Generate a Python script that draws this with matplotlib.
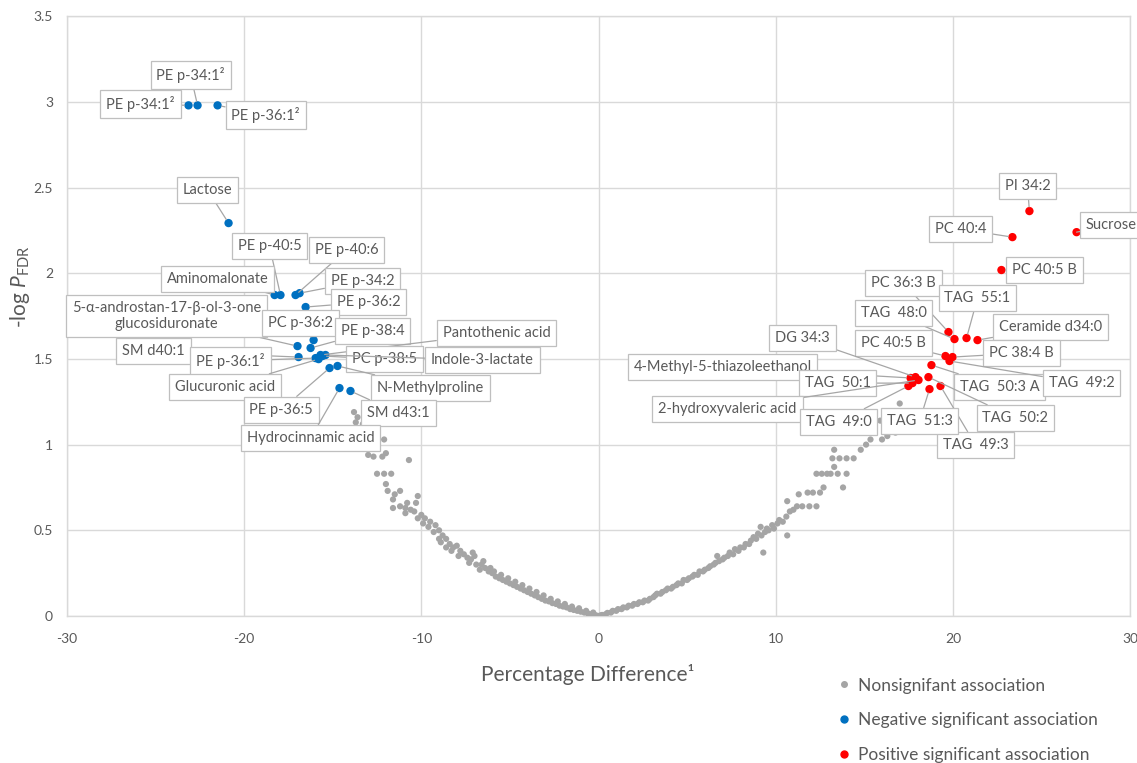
import matplotlib
matplotlib.use("Agg")
import matplotlib.pyplot as plt
from matplotlib.lines import Line2D
from matplotlib.ticker import FuncFormatter, MultipleLocator

plt.rcParams['font.family'] = ['Lato', 'DejaVu Sans']
plt.rcParams['mathtext.fontset'] = 'custom'
plt.rcParams['mathtext.rm'] = 'Lato'
plt.rcParams['mathtext.it'] = 'Lato:italic'

# ---------------- data ----------------
gray_x = [-13.8, -13.6, -13.7, -13.3, -12.9, -12.1, -13.0, -12.7, -12.2, -12.0, -10.7, -12.5, -12.1, -11.7,
          -12.0, -11.9, -11.5, -11.2, -11.6, -10.2, -11.6, -11.2, -10.9, -10.6, -10.4, -10.8, -10.3, -10.9,
          -10.0, -10.2, -9.8, -9.5, -9.6, -9.2, -9.9, -9.0, -9.3, -8.8, -9.0, -8.6, -8.9, -8.4, -8.6, -8.2,
          -8.0, -8.3, -7.8, -7.6, -7.9, -7.4, -7.2, -7.0, -7.3, -6.9, -7.1, -6.6, -6.4, -6.7, -6.5, -6.2,
          -6.0, -6.1, -5.8, -5.9, -5.6, -5.5, -5.4, -5.2, -5.1, -5.0, -4.8, -4.7, -4.6, -4.4, -4.3, -4.2,
          -4.0, -3.9, -3.8, -3.6, -3.5, -3.4, -3.2, -3.1, -3.0, -2.8, -2.7, -2.6, -2.4, -2.3, -2.2, -2.0,
          -1.9, -1.8, -1.6, -1.5, -1.4, -1.2, -1.1, -1.0, -0.8, -0.7, -0.6, -0.4, -0.3, -0.2, -0.1,
          0.1, 0.2, 0.4, 0.5, 0.7, 0.8, 1.0, 1.1, 1.3, 1.4, 1.6, 1.7, 1.9, 2.0, 2.2, 2.3, 2.5, 2.6, 2.8,
          2.9, 3.1, 3.2, 3.3, 3.5, 3.6, 3.8, 3.9, 4.1, 4.2, 4.4, 4.5, 4.7, 4.8, 5.0, 5.1, 5.3, 5.4, 5.6,
          5.7, 5.9, 6.0, 6.2, 6.3, 6.5, 6.6, 6.7, 6.8, 7.0, 7.1, 7.3, 7.4, 7.6, 7.7, 7.9, 8.0, 8.2, 8.3,
          8.5, 8.6, 8.75, 8.9, 9.0, 9.15, 9.2, 9.3, 9.4, 9.5, 9.6, 9.8, 9.9, 10.1, 10.2, 10.4, 10.65,
          10.6, 10.65, 10.8, 11.0, 11.2, 11.3, 11.5, 11.8, 11.9, 12.1, 12.3, 12.3, 12.5, 12.6, 12.7, 12.9,
          13.1, 13.2, 13.3, 13.3, 13.5, 13.6, 13.8, 14.0, 14.0, 14.0, 14.4, 14.8, 15.1, 15.35, 15.5, 15.4,
          15.9, 16.0, 16.3, 16.76, 16.9, 17.0]
gray_y = [1.19, 1.16, 1.13, 1.12, 1.13, 1.03, 0.94, 0.93, 0.93, 0.95, 0.91, 0.83, 0.83, 0.83,
          0.77, 0.73, 0.71, 0.73, 0.68, 0.70, 0.63, 0.64, 0.63, 0.62, 0.61, 0.66, 0.66, 0.60,
          0.59, 0.57, 0.57, 0.55, 0.52, 0.53, 0.54, 0.50, 0.49, 0.47, 0.45, 0.45, 0.43, 0.42, 0.40, 0.40,
          0.41, 0.38, 0.38, 0.36, 0.35, 0.34, 0.33, 0.35, 0.31, 0.30, 0.37, 0.30, 0.28, 0.27, 0.32, 0.26,
          0.25, 0.28, 0.23, 0.26, 0.22, 0.24, 0.21, 0.20, 0.22, 0.19, 0.18, 0.20, 0.17, 0.16, 0.18, 0.15,
          0.14, 0.16, 0.13, 0.12, 0.14, 0.11, 0.10, 0.12, 0.09, 0.085, 0.10, 0.075, 0.07, 0.085, 0.06, 0.055,
          0.07, 0.05, 0.04, 0.055, 0.035, 0.03, 0.045, 0.025, 0.02, 0.03, 0.015, 0.01, 0.02, 0.005, 0.002,
          0.003, 0.006, 0.01, 0.018, 0.02, 0.03, 0.03, 0.04, 0.04, 0.05, 0.05, 0.06, 0.06, 0.07, 0.07, 0.08, 0.08, 0.09, 0.09,
          0.10, 0.11, 0.12, 0.13, 0.13, 0.14, 0.15, 0.16, 0.16, 0.17, 0.18, 0.19, 0.19, 0.21, 0.21, 0.22, 0.23, 0.24, 0.24,
          0.26, 0.26, 0.27, 0.28, 0.29, 0.30, 0.31, 0.35, 0.32, 0.33, 0.34, 0.35, 0.37, 0.36, 0.39, 0.38, 0.40, 0.40, 0.42,
          0.42, 0.44, 0.46, 0.45, 0.48, 0.52, 0.47, 0.37, 0.49, 0.51, 0.50, 0.53, 0.51, 0.54, 0.56, 0.55, 0.47,
          0.58, 0.67, 0.61, 0.62, 0.64, 0.71, 0.64, 0.72, 0.64, 0.72, 0.64, 0.83, 0.72, 0.83, 0.75, 0.83,
          0.83, 0.92, 0.87, 0.97, 0.83, 0.92, 0.75, 0.83, 0.92, 1.07, 0.92, 0.97, 1.00, 1.03, 1.08, 1.14,
          1.14, 1.03, 1.05, 1.07, 1.18, 1.24]

neg_labels = ["PE p-34:1²", "PE p-34:1²", "PE p-36:1²", "Lactose", "PE p-40:5", "PE p-40:6",
              "Aminomalonate", "PE p-34:2", "PE p-36:2",
              "5-α-androstan-17-β-ol-3-one\nglucosiduronate", "PC p-36:2", "PE p-38:4",
              "Pantothenic acid", "SM d40:1", "PE p-36:1²", "PC p-38:5", "Indole-3-lactate",
              "Glucuronic acid", "N-Methylproline", "PE p-36:5", "SM d43:1", "Hydrocinnamic acid"]
neg_x = [-22.63, -23.14, -21.50, -20.88, -17.95, -17.10, -18.28, -16.87, -16.53, -16.99, -16.08, -16.25,
         -15.69, -16.93, -15.97, -15.58, -15.41, -15.80, -14.73, -15.18, -14.00, -14.62]
neg_y = [2.98, 2.98, 2.98, 2.293, 1.873, 1.873, 1.873, 1.884, 1.803, 1.575, 1.61, 1.564,
         1.523, 1.511, 1.505, 1.517, 1.523, 1.499, 1.459, 1.447, 1.313, 1.33]

pos_labels = ["PI 34:2", "Sucrose", "PC 40:4", "PC 40:5 B", "PC 36:3 B", "TAG  55:1", "TAG  48:0",
              "Ceramide d34:0", "PC 40:5 B", "PC 38:4 B", "TAG  50:3 A", "TAG  49:2", "TAG  50:2",
              "TAG  49:3", "TAG  51:3", "DG 34:3", "4-Methyl-5-thiazoleethanol", "TAG  50:1",
              "2-hydroxyvaleric acid", "TAG  49:0"]
pos_x = [24.32, 26.98, 23.36, 22.74, 19.75, 20.77, 20.09, 21.39, 19.58, 19.98, 18.79, 19.81, 18.62,
         19.30, 18.68, 17.89, 17.61, 17.72, 18.06, 17.49]
pos_y = [2.363, 2.240, 2.211, 2.019, 1.657, 1.622, 1.616, 1.610, 1.517, 1.511, 1.464, 1.488, 1.394,
         1.342, 1.324, 1.394, 1.389, 1.359, 1.377, 1.342]

# ---------------- layout (label box centres, data coords) ----------------
neg_label_pos = [(-23.02, 3.156), (-25.85, 2.987), (-18.79, 2.923), (-22.06, 2.485), (-18.57, 2.159),
                 (-14.22, 2.135), (-21.5, 1.966), (-13.32, 1.955), (-12.98, 1.832), (-24.38, 1.75),
                 (-16.82, 1.709), (-12.75, 1.663), (-5.76, 1.651), (-25.11, 1.546), (-20.77, 1.488),
                 (-12.08, 1.499), (-6.55, 1.494), (-21.1, 1.336), (-9.48, 1.33), (-17.9, 1.204),
                 (-11.29, 1.184), (-16.25, 1.038)]
pos_label_pos = [(24.21, 2.509), (28.95, 2.281), (20.43, 2.258), (25.17, 2.019), (17.21, 1.943),
                 (21.39, 1.855), (16.65, 1.768), (25.51, 1.686), (16.65, 1.593), (23.87, 1.534),
                 (22.63, 1.336), (27.26, 1.359), (23.53, 1.155), (21.28, 0.998), (18.12, 1.138),
                 (11.51, 1.622), (7.0, 1.453), (13.49, 1.359), (7.28, 1.208), (13.54, 1.132)]

GRAY = '#A5A5A5'
BLUE = '#0070C0'
RED = '#FF0000'
TXT = '#595959'
GRID = '#D9D9D9'

fig = plt.figure(figsize=(11.37, 7.63), dpi=100)
ax = fig.add_axes([0.0589, 0.1927, 0.935, 0.786])

ax.set_xlim(-30, 30)
ax.set_ylim(0, 3.5)
ax.xaxis.set_major_locator(MultipleLocator(10))
ax.yaxis.set_major_locator(MultipleLocator(0.5))
ax.yaxis.set_major_formatter(FuncFormatter(lambda v, p: f"{v:g}"))
ax.xaxis.set_major_formatter(FuncFormatter(lambda v, p: f"{v:g}"))
ax.grid(True, color=GRID, lw=1.0, zorder=0)
ax.set_axisbelow(True)
for s in ax.spines.values():
    s.set_color(GRID)
    s.set_linewidth(1.0)
ax.tick_params(length=0, colors=TXT, labelsize=10)
ax.tick_params(axis='x', pad=12)
ax.tick_params(axis='y', pad=10)

ax.scatter(gray_x, gray_y, s=20, color=GRAY, edgecolors='none', zorder=3)
ax.scatter(neg_x, neg_y, s=36, color=BLUE, edgecolors='none', zorder=4)
ax.scatter(pos_x, pos_y, s=36, color=RED, edgecolors='none', zorder=4)

box = dict(boxstyle='square,pad=0.4', fc='white', ec='#BFBFBF', lw=0.9)
arrow = dict(arrowstyle='-', color='#A6A6A6', lw=0.9, shrinkA=0, shrinkB=3)

for lab, x, y, (lx, ly) in zip(neg_labels, neg_x, neg_y, neg_label_pos):
    ax.annotate(lab, xy=(x, y), xytext=(lx, ly), textcoords='data', ha='center', va='center',
                multialignment='center', fontsize=10.5, color=TXT, bbox=box, arrowprops=arrow,
                annotation_clip=False, zorder=6)

for lab, x, y, (lx, ly) in zip(pos_labels, pos_x, pos_y, pos_label_pos):
    ax.annotate(lab, xy=(x, y), xytext=(lx, ly), textcoords='data', ha='center', va='center',
                multialignment='center', fontsize=10.5, color=TXT, bbox=box, arrowprops=arrow,
                annotation_clip=False, zorder=6)

ax.set_xlabel("Percentage Difference¹", fontsize=15, color=TXT)
ax.xaxis.set_label_coords(0.49, -0.08)
ax.set_ylabel(r"-log $\mathit{P}_{\mathrm{FDR}}$", fontsize=15, color=TXT)
ax.yaxis.set_label_coords(-0.033, 0.55)

handles = [Line2D([], [], ls='none', marker='o', ms=4, color=GRAY),
           Line2D([], [], ls='none', marker='o', ms=5, color=BLUE),
           Line2D([], [], ls='none', marker='o', ms=5, color=RED)]
names = ["Nonsignifant association", "Negative significant association",
         "Positive significant association"]
leg = fig.legend(handles, names, loc='upper left', bbox_to_anchor=(0.738, 0.112), frameon=False,
                 fontsize=12.5, labelcolor=TXT, handlelength=0.6, handletextpad=0.5,
                 labelspacing=1.08, borderpad=0, borderaxespad=0)

fig.savefig("out.png", dpi=100)
